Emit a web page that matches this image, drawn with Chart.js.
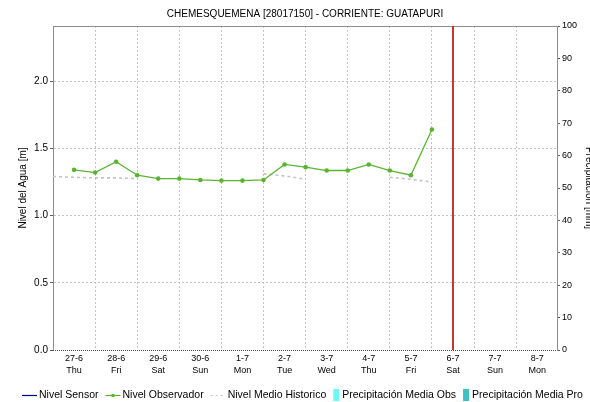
<!DOCTYPE html>
<html><head><meta charset="utf-8">
<script src="https://cdn.jsdelivr.net/npm/chart.js@4/dist/chart.umd.min.js"></script>
<style>html,body{margin:0;padding:0;background:#fff;}#wrap{width:590px;height:402px;}</style>
</head><body><div id="wrap"><canvas id="c" width="590" height="402"></canvas></div>
<script>
// ---- data ----
const dayLabels = ['27-6','28-6','29-6','30-6','1-7','2-7','3-7','4-7','5-7','6-7','7-7','8-7'];
const weekdays  = ['Thu','Fri','Sat','Sun','Mon','Tue','Wed','Thu','Fri','Sat','Sun','Mon'];
const dayIndex  = [0,1,2,3,4,5,6,7,8,9,10,11];

const obsDays   = [0,0.5,1,1.5,2,2.5,3,3.5,4,4.5,5,5.5,6,6.5,7,7.5,8,8.5];
const obsLevels = [1.34,1.32,1.40,1.30,1.275,1.275,1.265,1.26,1.26,1.265,1.38,1.36,1.335,1.335,1.38,1.335,1.30,1.64];

const histDays   = [-0.5,0,0.5,1,1.5,2,4,4.5,5,5.5,6,7,7.5,8,8.5];
const histLevels = [1.29,1.285,1.28,1.28,1.275,null,null,1.31,1.295,1.27,null,null,1.285,1.27,1.25];

const levelTicks  = [0,0.5,1.0,1.5,2.0];
const precipTicks = [0,10,20,30,40,50,60,70,80,90,100];
const currentDay = 9;

const FONT = '"Liberation Sans", Arial, sans-serif';

const toXY = (xs, ys) => xs.map((x,i)=>({x:x, y:ys[i]}));

const framePlugin = {
  id:'frame',
  beforeDatasetsDraw(chart){
    const {ctx, chartArea:a} = chart;
    ctx.save();
    ctx.strokeStyle='#8c8c8c'; ctx.lineWidth=1;
    ctx.beginPath(); ctx.moveTo(a.left, a.top+0.5); ctx.lineTo(a.right, a.top+0.5); ctx.stroke();
    ctx.strokeStyle='#505050'; ctx.setLineDash([1,1]);
    ctx.beginPath(); ctx.moveTo(a.left, a.bottom+0.5); ctx.lineTo(a.right, a.bottom+0.5); ctx.stroke();
    ctx.restore();
  },
  afterDatasetsDraw(chart){
    const {ctx, chartArea:a, scales} = chart;
    const x = Math.round(scales.x.getPixelForValue(currentDay));
    ctx.save();
    ctx.strokeStyle='#cc3333'; ctx.lineWidth=2;
    ctx.beginPath(); ctx.moveTo(x, a.top); ctx.lineTo(x, a.bottom); ctx.stroke();
    ctx.restore();
  }
};

const legendPlugin = {
  id:'bottomLegend',
  afterDraw(chart){
    const ctx = chart.ctx;
    ctx.save();
    ctx.font = '10.5px ' + FONT;
    ctx.textBaseline = 'middle';
    let x = 22; const y = 395;
    chart.data.datasets.forEach(ds=>{
      if (ds.type === 'bar') {
        ctx.fillStyle = ds.backgroundColor;
        ctx.fillRect(x, y-6, 6, 12);
        x += 9;
      } else {
        ctx.strokeStyle = ds.borderColor; ctx.lineWidth = ds.borderDash ? 1 : 1.2;
        ctx.setLineDash(ds.borderDash ? [2,3] : []);
        ctx.beginPath(); ctx.moveTo(x, y+0.5); ctx.lineTo(x+15, y+0.5); ctx.stroke();
        ctx.setLineDash([]);
        if (ds.pointRadius > 0) {
          ctx.fillStyle = ds.borderColor;
          ctx.beginPath(); ctx.arc(x+7.5, y+0.5, 1.8, 0, Math.PI*2); ctx.fill();
        }
        x += 17;
      }
      ctx.fillStyle = '#000';
      ctx.fillText(ds.label, x, y);
      x += ctx.measureText(ds.label).width + 7;
    });
    ctx.restore();
  }
};

new Chart(document.getElementById('c'), {
  data: {
    datasets: [
      { type:'line', label:'Nivel Sensor', data:[], borderColor:'#000080', backgroundColor:'#000080', pointRadius:0, xAxisID:'x', yAxisID:'y' },
      { type:'line', label:'Nivel Observador', data: toXY(obsDays, obsLevels), borderColor:'#5ab432', backgroundColor:'#5ab432',
        borderWidth:1.3, pointRadius:2.3, pointHoverRadius:2.3, pointBorderWidth:0, tension:0, xAxisID:'x', yAxisID:'y', order:1 },
      { type:'line', label:'Nivel Medio Historico', data: toXY(histDays, histLevels), borderColor:'#c4c4c4', backgroundColor:'#c4c4c4',
        borderWidth:1.6, borderDash:[3,3], pointRadius:0, spanGaps:false, tension:0, xAxisID:'x', yAxisID:'y', order:2 },
      { type:'bar', label:'Precipitación Media Obs', data:[], backgroundColor:'#70f6f6', xAxisID:'x', yAxisID:'y1' },
      { type:'bar', label:'Precipitación Media Pro', data:[], backgroundColor:'#3fc2c2', xAxisID:'x', yAxisID:'y1' }
    ]
  },
  options: {
    responsive:false, animation:false,
    layout:{ padding:{ left:0, right:0, top:0, bottom:22 } },
    plugins:{
      legend:{ display:false },
      tooltip:{ enabled:false },
      title:{ display:true, fullSize:false, text:'CHEMESQUEMENA [28017150] - CORRIENTE: GUATAPURI', color:'#000',
        font:{ family:FONT, size:10, weight:'normal', lineHeight:1.2 }, padding:{ top:8, bottom:6 } }
    },
    scales:{
      x:{
        type:'linear', position:'bottom', min:-0.5, max:11.47, offset:false,
        afterBuildTicks: s => { s.ticks = dayIndex.map(v=>({value:v})); },
        afterFit: s => { s.height = 30; },
        ticks:{ autoSkip:false, maxRotation:0, minRotation:0, padding:2, color:'#000',
          font:{ family:FONT, size:9, lineHeight:1.34 },
          callback:(v)=>[dayLabels[v], weekdays[v]] },
        grid:{ color:'#c4c4c4', lineWidth:1, drawTicks:false },
        border:{ display:false, dash:[2,2] }
      },
      y:{
        type:'linear', position:'left', min:0, max:2.41,
        afterBuildTicks: s => { s.ticks = levelTicks.map(v=>({value:v})); },
        afterFit: s => { s.width = 53; },
        ticks:{ padding:2, color:'#000', font:{ family:FONT, size:10 }, callback:v=>v.toFixed(1) },
        grid:{ color: c => c.tick && c.tick.value === 0 ? 'rgba(0,0,0,0)' : '#c4c4c4', lineWidth:1, drawTicks:true, tickLength:3, tickColor:'#606060' },
        border:{ display:true, color:'#8c8c8c', width:1, dash:[2,2] },
        title:{ display:true, text:'Nivel del Agua [m]', color:'#000', font:{ family:FONT, size:10 }, padding:{ top:17, bottom:0 } }
      },
      y1:{
        type:'linear', position:'right', min:0, max:100,
        afterBuildTicks: s => { s.ticks = precipTicks.map(v=>({value:v})); },
        afterFit: s => { s.width = 33; },
        ticks:{ padding:2, color:'#000', font:{ family:FONT, size:9 } },
        grid:{ drawOnChartArea:false, drawTicks:true, tickLength:3, tickColor:'#606060', color:'#606060' },
        border:{ display:true, color:'#8c8c8c', width:1 },
        title:{ display:true, text:'Precipitación [mm]', color:'#000', font:{ family:FONT, size:10 }, padding:{ top:-4.5, bottom:0 } }
      }
    }
  },
  plugins:[framePlugin, legendPlugin]
});
</script>
</body></html>
